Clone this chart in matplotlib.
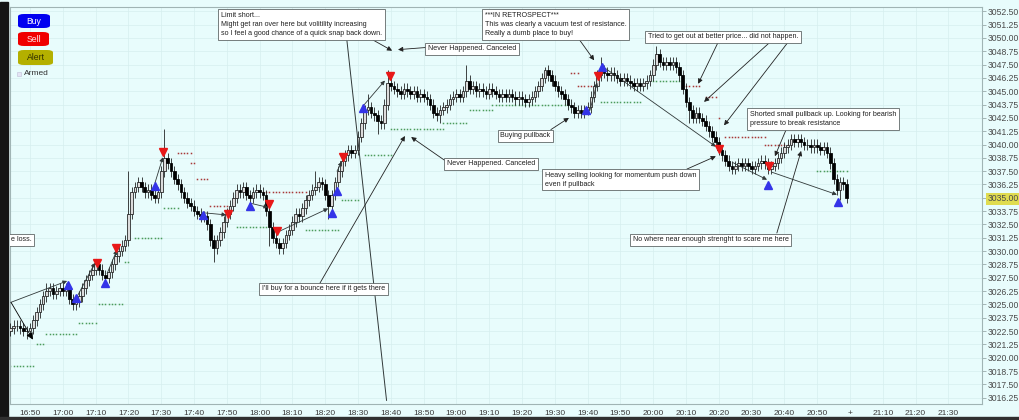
import numpy as np
import matplotlib
matplotlib.use("Agg")
import matplotlib.pyplot as plt
from matplotlib.patches import FancyBboxPatch, Rectangle

# ---- data (1 minute bars, minutes counted from 16:00) ----
first_minute = 44
first_open = 3022.5
closes = [
    3022.75, 3023.0, 3023.0, 3022.75, 3022.5, 3022.5, 3022.75,            # 16:44
    3023.5, 3024.25, 3025.0, 3025.75,                                      # 16:51
    3026.25, 3026.5, 3026.0, 3026.25, 3026.5, 3026.25, 3026.5,            # 16:55
    3025.5, 3025.0, 3025.25,                                               # 17:02
    3025.75, 3026.5, 3027.25, 3027.75, 3028.25, 3028.75,                   # 17:05
    3028.25, 3027.75, 3027.5, 3028.0,                                      # 17:11
    3028.75, 3029.5, 3030.0, 3030.5, 3031.0,                               # 17:15
    3033.5, 3035.5,                                                        # 17:20
    3036.0, 3036.5, 3036.0, 3035.5, 3035.75,                               # 17:22
    3035.25, 3035.0, 3035.5,                                               # 17:27
    3037.5, 3038.75,                                                       # 17:30
    3038.25, 3037.5, 3036.75, 3036.25, 3035.5, 3035.0, 3034.5, 3034.25,
    3033.75, 3033.5, 3033.25,                                              # 17:32
    3033.25, 3032.5, 3031.0, 3030.25, 3031.0,                              # 17:43
    3031.75, 3032.75, 3033.5, 3034.25,                                     # 17:48
    3035.0, 3035.75, 3035.5, 3036.0,                                       # 17:52
    3035.25, 3035.0, 3035.5,                                               # 17:56
    3035.75, 3035.5, 3035.25,                                              # 17:59
    3033.75, 3032.25, 3031.25,                                             # 18:02
    3030.75, 3030.25,                                                      # 18:05
    3030.75, 3031.5, 3032.0, 3032.75, 3033.5, 3033.25, 3034.0, 3034.75,
    3035.25, 3035.75, 3036.0, 3036.5, 3036.25,                             # 18:07
    3035.25, 3034.25,                                                      # 18:20
    3035.25, 3036.5, 3037.5, 3038.5,                                       # 18:22
    3039.0, 3039.5, 3039.25, 3039.5,                                       # 18:26
    3040.75, 3042.0, 3043.25,                                              # 18:30
    3043.5, 3043.0,                                                        # 18:33
    3042.75, 3042.25, 3042.0,                                              # 18:35
    3043.75, 3045.75,                                                      # 18:38
    3045.5, 3045.25, 3045.0, 3044.75, 3045.25, 3045.0, 3044.75, 3045.0,
    3044.5,                                                                # 18:40
    3044.75, 3044.5, 3044.25,                                              # 18:49
    3043.75, 3043.0, 3042.75, 3043.25,                                     # 18:52
    3043.5, 3043.75, 3044.25, 3044.5, 3044.75, 3044.5,                     # 18:56
    3045.0, 3046.0, 3045.25, 3045.5, 3045.0,                               # 19:02
    3045.25, 3045.0, 3044.75, 3045.25, 3045.0, 3044.75, 3044.5,            # 19:07
    3044.75, 3044.5, 3044.75, 3044.5, 3044.25, 3044.5, 3044.25, 3044.0,
    3044.25, 3044.5, 3045.0, 3045.5,                                       # 19:14
    3046.25, 3047.0, 3046.5,                                               # 19:26
    3046.0, 3045.5, 3045.0, 3044.75, 3044.25, 3043.75, 3043.5, 3043.0,
    3043.25,                                                               # 19:29
    3043.0, 3043.25, 3043.5,                                               # 19:38
    3044.5, 3045.5, 3046.5,                                                # 19:41
    3047.0, 3046.75, 3046.5, 3046.75, 3046.5, 3046.25, 3046.0, 3046.25,
    3046.0,                                                                # 19:44
    3045.75, 3045.5, 3045.75, 3045.5, 3045.75, 3046.0,                     # 19:53
    3046.5, 3047.5, 3048.5,                                                # 19:59
    3047.75, 3047.5, 3047.75, 3047.5, 3047.75, 3047.25,                    # 20:02
    3046.5, 3045.25, 3044.0, 3043.25,                                      # 20:08
    3042.5, 3043.0, 3042.5,                                                # 20:12
    3042.25, 3041.75, 3041.25, 3040.75, 3040.25, 3039.5,                   # 20:15
    3039.0, 3038.5, 3038.0, 3037.75, 3038.0,                               # 20:21
    3038.25, 3038.0, 3038.25, 3038.0, 3037.75, 3038.0, 3038.25, 3038.5,
    3038.25,                                                               # 20:26
    3037.75, 3038.0, 3038.25,                                              # 20:35
    3038.75, 3039.25, 3039.75, 3040.0, 3040.5, 3040.25,                    # 20:38
    3040.5, 3040.25, 3040.0,                                               # 20:44
    3040.0, 3039.75, 3040.0, 3039.75, 3039.5, 3039.75, 3039.25,            # 20:47
    3038.25, 3036.75, 3035.75,                                             # 20:54
    3036.5, 3036.25, 3035.0,                                               # 20:57
]
wick = 0.5
high_spikes = {55: 3027.0, 80: 3037.5, 84: 3037.0, 91: 3041.5, 116: 3036.5,
               137: 3037.5, 153: 3044.75, 159: 3047.0, 183: 3047.5, 207: 3047.25,
               224: 3048.25, 241: 3049.25}
low_spikes = {49: 3021.75, 63: 3024.5, 106: 3029.0, 123: 3030.5, 126: 3029.75,
              141: 3033.0, 156: 3041.0, 175: 3042.0, 219: 3042.5, 251: 3042.0,
              264: 3037.25, 297: 3034.75}

# trailing stop dots: (from minute, to minute, price)
green_dots = [(44, 51, 3019.25), (52, 54, 3021.25), (55, 64, 3022.25), (65, 70, 3023.25),
              (71, 78, 3025.0), (79, 80, 3029.0), (82, 90, 3031.25), (91, 95, 3034.0),
              (113, 122, 3032.25), (134, 144, 3032.0), (145, 150, 3034.75),
              (152, 160, 3039.0), (160, 176, 3041.5), (176, 183, 3042.0),
              (184, 191, 3043.25), (191, 214, 3043.75), (224, 236, 3044.0),
              (240, 248, 3046.0), (290, 299, 3037.5)]
red_dots = [(95, 99, 3039.25), (99, 100, 3038.25), (101, 104, 3036.75), (105, 110, 3034.25),
            (121, 134, 3035.5), (215, 217, 3046.75), (217, 222, 3045.5), (250, 254, 3045.5),
            (256, 259, 3044.5), (260, 260, 3042.5), (262, 274, 3040.75), (274, 281, 3040.0)]

# signals: (minute, price)
buy_marks = [(61.6, 3026.8), (64.0, 3025.6), (72.9, 3027.0), (88.1, 3036.1), (102.7, 3033.4),
             (117.0, 3034.2), (142.0, 3033.6), (143.6, 3035.6), (151.5, 3043.4),
             (219.5, 3043.2), (224.4, 3047.3), (275.0, 3036.2), (296.3, 3034.6)]
sell_marks = [(70.4, 3028.9), (76.2, 3030.3), (90.5, 3039.3), (110.4, 3033.5), (122.9, 3034.4),
              (125.3, 3031.9), (145.4, 3038.8), (159.8, 3046.4), (223.2, 3046.4),
              (260.1, 3039.6), (275.3, 3038.0)]

# trade lines: (from minute, from price, to minute, to price)
trade_lines = [(44.2, 3025.2, 61.3, 3027.2), (64.3, 3025.7, 69.8, 3028.9),
               (73.5, 3027.9, 76.5, 3030.1), (88.1, 3036.4, 90.5, 3038.8),
               (102.7, 3033.6, 109.8, 3033.4), (117.1, 3034.5, 122.6, 3034.1),
               (125.6, 3031.8, 140.9, 3034.0), (143.6, 3037.5, 145.1, 3038.4),
               (151.5, 3043.6, 158.2, 3046.0), (220.7, 3043.2, 222.9, 3045.8),
               (224.7, 3047.3, 259.1, 3039.8), (264.3, 3038.3, 274.7, 3036.7),
               (276.2, 3037.4, 296.0, 3035.3)]
stop_line = (44.2, 3025.2, 50.9, 3021.7)
long_line = (146.6, 3049.8, 158.7, 3016.0)

# notes: (minute, price, vertical anchor, text)
notes = [
    (108.2, 3052.45, "top", "Limit short...\nMight get ran over here but volitility increasing\n"
                            "so I feel a good chance of a quick snap back down."),
    (171.3, 3049.0, "center", "Never Happened. Canceled"),
    (188.7, 3052.45, "top", "***IN RETROSPECT***\nThis was clearly a vacuum test of resistance.\n"
                            "Really a dumb place to buy!"),
    (238.4, 3050.1, "center", "Tried to get out at better price... did not happen."),
    (193.3, 3040.8, "center", "Buying pullback"),
    (177.1, 3038.2, "center", "Never Happened. Canceled"),
    (120.7, 3026.45, "center", "I'll buy for a bounce here if it gets there"),
    (207.0, 3037.45, "top", "Heavy selling looking for momentum push down\neven if pullback"),
    (269.5, 3043.15, "top", "Shorted small pullback up. Looking for bearish\npressure to break resistance"),
    (233.8, 3031.05, "center", "No where near enough strenght to scare me here"),
    (44.2, 3031.05, "center", "e loss."),
]
# note arrows: (tail minute, tail price, tip minute, tip price)
note_arrows = [(154.6, 3049.8, 160.4, 3048.8), (170.7, 3049.1, 162.2, 3048.9),
               (217.1, 3050.0, 222.0, 3047.9), (259.8, 3049.6, 253.7, 3045.7),
               (275.6, 3049.6, 255.5, 3044.0), (281.1, 3049.6, 261.6, 3041.8),
               (208.8, 3041.4, 214.3, 3042.5), (176.5, 3038.5, 166.2, 3040.7),
               (138.4, 3027.0, 164.3, 3040.8), (250.3, 3037.7, 259.1, 3038.9),
               (280.8, 3041.6, 277.1, 3038.9), (277.7, 3031.7, 285.1, 3039.4)]

time_ticks = list(range(50, 340, 10))
time_labels = ["16:50", "17:00", "17:10", "17:20", "17:30", "17:40", "17:50", "18:00",
               "18:10", "18:20", "18:30", "18:40", "18:50", "19:00", "19:10", "19:20",
               "19:30", "19:40", "19:50", "20:00", "20:10", "20:20", "20:30", "20:40",
               "20:50", "+", "21:10", "21:20", "21:30"]
last_price = 3035.00

# ---- figure ----
W, H = 1019, 420
bg = "#e8fcfc"
plt.rcParams["font.family"] = ["Liberation Sans", "DejaVu Sans"]
fig = plt.figure(figsize=(W / 100, H / 100), dpi=100, facecolor=bg)
ax = fig.add_axes([10 / W, 1 - 404 / H, 972 / W, 397 / H], facecolor=bg)
ax.set_xlim(43.9, 340.24)
ax.set_ylim(3015.66, 3052.9)

price_ticks = np.arange(3016.25, 3052.51, 1.25)
ax.set_xticks(time_ticks)
ax.set_xticklabels(time_labels, fontsize=6, color="#3a3a3a")
ax.yaxis.tick_right()
ax.set_yticks(price_ticks)
ax.set_yticklabels(["%.2f" % v for v in price_ticks], fontsize=6.2, color="#4a4a4a")
for tick, v in zip(ax.yaxis.get_major_ticks(), price_ticks):
    if abs(v - last_price) < 1e-6:
        tick.label2.set_bbox(dict(boxstyle="square,pad=0.15", fc="#e0dc50", ec="none"))
ax.tick_params(axis="y", length=3, width=0.5, color="#8a9a9a", pad=1)
ax.tick_params(axis="x", length=0, pad=4)
ax.grid(True, color="#d6eeee", lw=0.5)
ax.set_axisbelow(True)
for s in ax.spines.values():
    s.set_color("#a0b4b4")
    s.set_linewidth(0.8)

# candles
closes = np.array(closes)
minutes = np.arange(first_minute, first_minute + len(closes))
opens = np.concatenate([[first_open], closes[:-1]])
tops = np.maximum(opens, closes)
bots = np.minimum(opens, closes)
highs = tops + wick
lows = bots - wick
for m, v in high_spikes.items():
    highs[m - first_minute] = v
for m, v in low_spikes.items():
    lows[m - first_minute] = v
ax.vlines(minutes, lows, highs, color="#101010", lw=0.55, zorder=3)
up = closes >= opens
ax.bar(minutes[up], (tops - bots)[up], bottom=bots[up], width=0.8,
       color="#dcdcdc", edgecolor="#1a1a1a", linewidth=0.55, zorder=4)
ax.bar(minutes[~up], (tops - bots)[~up], bottom=bots[~up], width=0.8,
       color="black", edgecolor="black", linewidth=0.55, zorder=4)

for a, b, p in green_dots:
    xs = np.arange(a, b + 1)
    ax.plot(xs, [p] * len(xs), ls="none", marker="s", ms=1.1, mew=0, color="#4c9c5c", zorder=2)
for a, b, p in red_dots:
    xs = np.arange(a, b + 1)
    ax.plot(xs, [p] * len(xs), ls="none", marker="s", ms=1.1, mew=0, color="#a83838", zorder=2)

for x0, y0, x1, y1 in trade_lines:
    ax.annotate("", xy=(x1, y1), xytext=(x0, y0),
                arrowprops=dict(arrowstyle="-|>", color="#303838", lw=0.6,
                                mutation_scale=6, shrinkA=0, shrinkB=0), zorder=5)
ax.annotate("", xy=stop_line[2:], xytext=stop_line[:2],
            arrowprops=dict(arrowstyle="-|>", color="black", lw=0.6,
                            mutation_scale=10, shrinkA=0, shrinkB=0), zorder=5)
ax.plot([long_line[0], long_line[2]], [long_line[1], long_line[3]], color="#303838", lw=0.7, zorder=5)

bx, by = zip(*buy_marks)
ax.plot(bx, by, ls="none", marker="^", ms=5.5, color="#3434e8", zorder=6)
sx, sy = zip(*sell_marks)
ax.plot(sx, sy, ls="none", marker="v", ms=5.5, color="#e81818", zorder=6)

for x0, y0, x1, y1 in note_arrows:
    ax.annotate("", xy=(x1, y1), xytext=(x0, y0),
                arrowprops=dict(arrowstyle="-|>", color="#222222", lw=0.6,
                                mutation_scale=7, shrinkA=0, shrinkB=0), zorder=7)
for m, p, va, txt in notes:
    ax.text(m, p, txt, ha="left", va=va, fontsize=5.1, color="#202020", linespacing=1.45,
            zorder=8, clip_on=True,
            bbox=dict(boxstyle="square,pad=0.35", fc="white", ec="#606868", lw=0.6))

# left window strip and bottom bar
fig.patches.append(Rectangle((0, 0), 8 / W, 1 - 2 / H, transform=fig.transFigure,
                             color="#151515", zorder=0))
fig.patches.append(Rectangle((0, 0), 1, 3 / H, transform=fig.transFigure,
                             color="#303030", zorder=0))

# chart trader buttons
buttons = [("Buy", 18, 14, 32, 14, "#0000f0", "white"),
           ("Sell", 18, 32, 31, 14, "#f00000", "#ffe8e8"),
           ("Alert", 18, 50, 35, 15, "#b4b000", "#303000")]
for label, px, py, pw, ph, fc, tc in buttons:
    fig.patches.append(FancyBboxPatch((px / W, 1 - (py + ph) / H), pw / W, ph / H,
                                      boxstyle="round,pad=0,rounding_size=0.006",
                                      transform=fig.transFigure, fc=fc, ec="none", zorder=5))
    fig.text((px + pw / 2) / W, 1 - (py + ph / 2) / H, label, ha="center", va="center",
             fontsize=6.2, color=tc, zorder=6)
fig.patches.append(Rectangle((17 / W, 1 - 76 / H), 4 / W, 4 / H, transform=fig.transFigure,
                             fc="#e4e4f4", ec="#c0c0d8", lw=0.4, zorder=5))
fig.text(24 / W, 1 - 73.5 / H, "Armed", ha="left", va="center", fontsize=6, color="#303030")

fig.savefig("out.png", dpi=100, facecolor=bg)
